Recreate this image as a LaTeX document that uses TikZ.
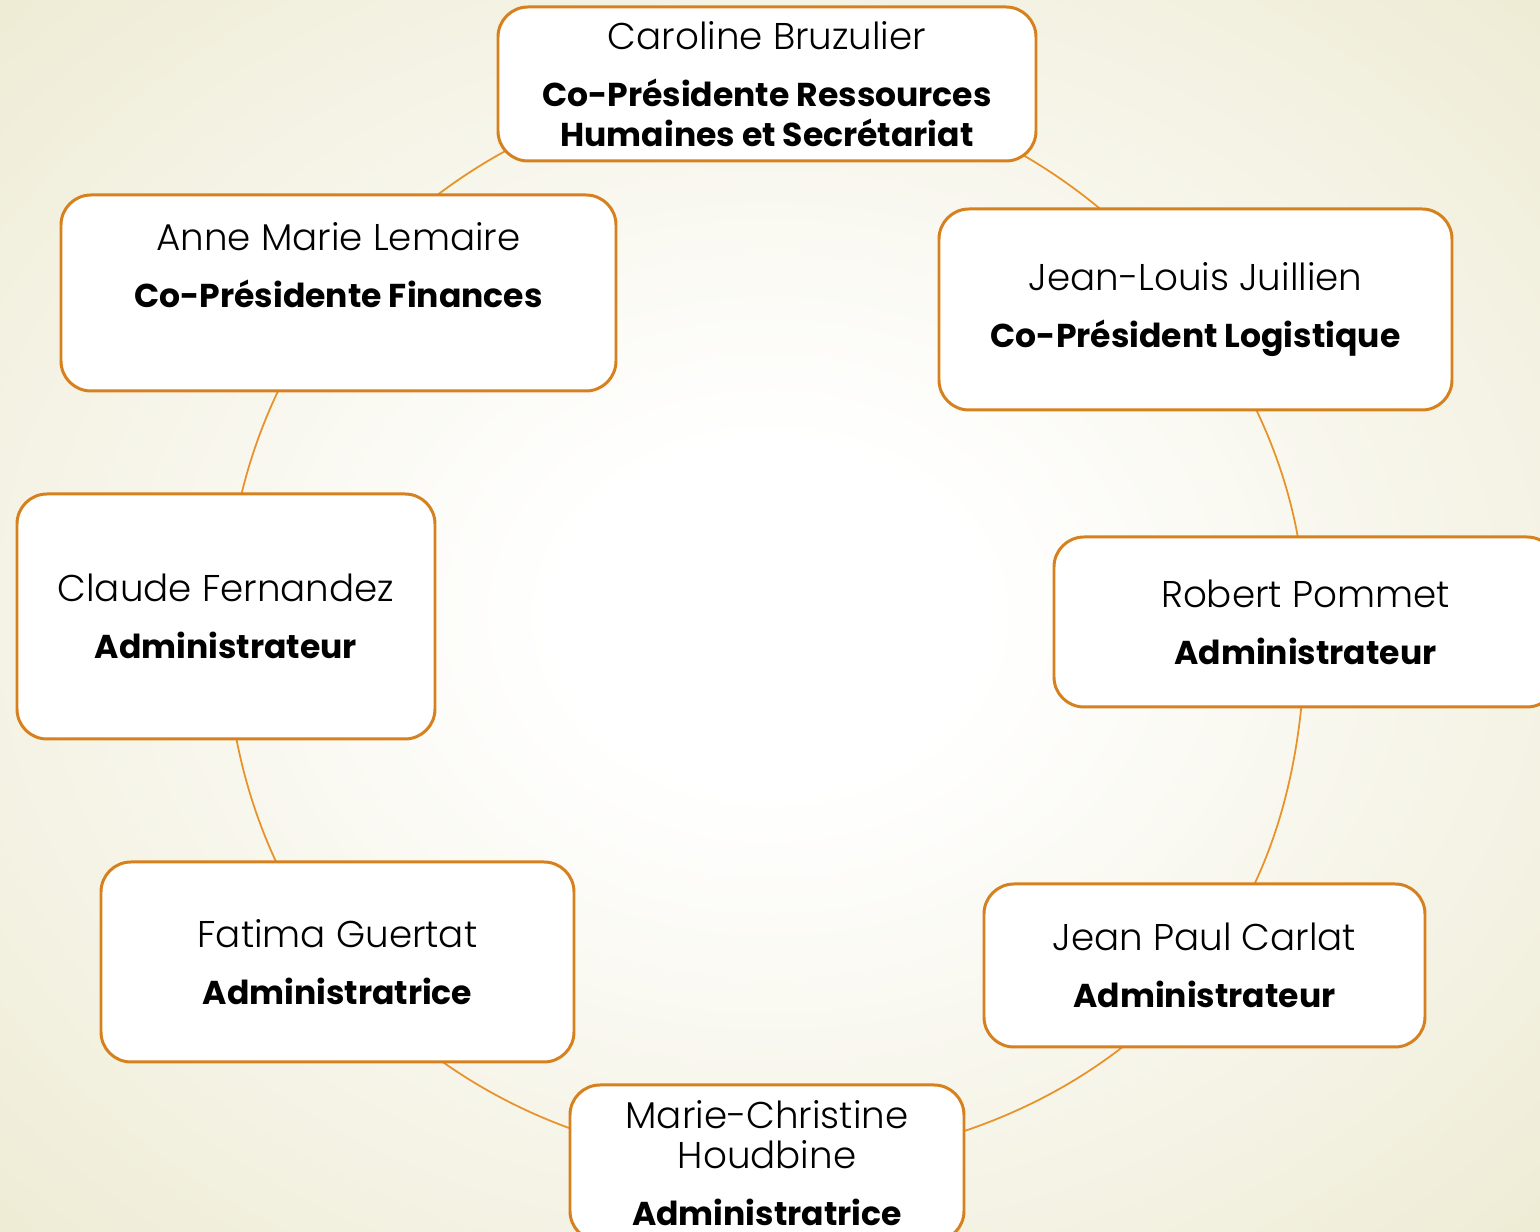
\documentclass[tikz,border=0pt]{standalone}
\usepackage{fontspec}
\setmainfont{Poppins}
\newfontfamily\namefont{Poppins Light}
\usetikzlibrary{backgrounds}
\definecolor{rim}{RGB}{215,128,30}
\definecolor{arcline}{RGB}{232,146,42}
\definecolor{paper}{RGB}{238,235,212}
\pgfdeclareradialshading{glow}{\pgfpoint{0bp}{0bp}}{color(0bp)=(white); color(7bp)=(white); color(36bp)=(paper); color(50bp)=(paper)}
\newcommand{\who}[1]{{\namefont\fontsize{10.6}{11.4}\selectfont #1}}
\newcommand{\job}[1]{{\bfseries\fontsize{9.4}{11.4}\selectfont #1}}
\tikzset{
  member/.style={draw=rim, line width=0.85pt, fill=white, rounded corners=0.3cm,
    align=center, inner sep=0pt, font=\fontsize{10}{11.4}\selectfont},
  ring/.style={draw=arcline, line width=0.5pt, looseness=0.89}
}

\begin{document}
\begin{tikzpicture}
  \useasboundingbox (0,0) rectangle (15.4,12.32);
  \clip (0,0) rectangle (15.4,12.32);
  % members, clockwise from the top
  \node[member, minimum width=5.38cm, minimum height=1.54cm] (caroline) at (7.67,11.48)
    {\who{Caroline Bruzulier}\\[4.8pt]\job{Co-Présidente Ressources}\\\job{Humaines et Secrétariat}};
  \node[member, minimum width=5.13cm, minimum height=2.01cm] (jeanlouis) at (11.955,9.225)
    {\who{Jean-Louis Juillien}\\[4.8pt]\job{Co-Président Logistique}};
  \node[member, minimum width=5.03cm, minimum height=1.70cm] (robert) at (13.055,6.10)
    {\who{Robert Pommet}\\[4.8pt]\job{Administrateur}};
  \node[member, minimum width=4.41cm, minimum height=1.63cm] (jeanpaul) at (12.045,2.665)
    {\who{Jean Paul Carlat}\\[4.8pt]\job{Administrateur}};
  \node[member, minimum width=3.94cm, minimum height=1.56cm] (marie) at (7.67,0.69)
    {\who{Marie-Christine}\\\who{Houdbine}\\[4.8pt]\job{Administratrice}};
  \node[member, minimum width=4.73cm, minimum height=2.00cm] (fatima) at (3.375,2.70)
    {\who{Fatima Guertat}\\[4.8pt]\job{Administratrice}};
  \node[member, minimum width=4.18cm, minimum height=2.45cm] (claude) at (2.26,6.155)
    {\who{Claude Fernandez}\\[4.8pt]\job{Administrateur}};
  \node[member, minimum width=5.55cm, minimum height=1.96cm] (anne) at (3.385,9.39)
    {\who{Anne Marie Lemaire}\\[4.8pt]\job{Co-Présidente Finances}\\[4.8pt]\mbox{}};
  % ring behind the boxes
  \begin{pgfonlayer}{background}
    \shade[shading=glow] (0,0) rectangle (15.4,12.32);
    \draw[ring] (caroline.center) to[out=0,in=126.5] (jeanlouis.center);
    \draw[ring] (jeanlouis.center) to[out=-53.5,in=90] (robert.center);
    \draw[ring] (robert.center) to[out=-90,in=52] (jeanpaul.center);
    \draw[ring] (jeanpaul.center) to[out=-128,in=0] (marie.center);
    \draw[ring] (marie.center) to[out=180,in=-52] (fatima.center);
    \draw[ring] (fatima.center) to[out=128,in=-91] (claude.center);
    \draw[ring] (claude.center) to[out=89,in=-127.6] (anne.center);
    \draw[ring] (anne.center) to[out=52.4,in=180] (caroline.center);
  \end{pgfonlayer}
\end{tikzpicture}
\end{document}
